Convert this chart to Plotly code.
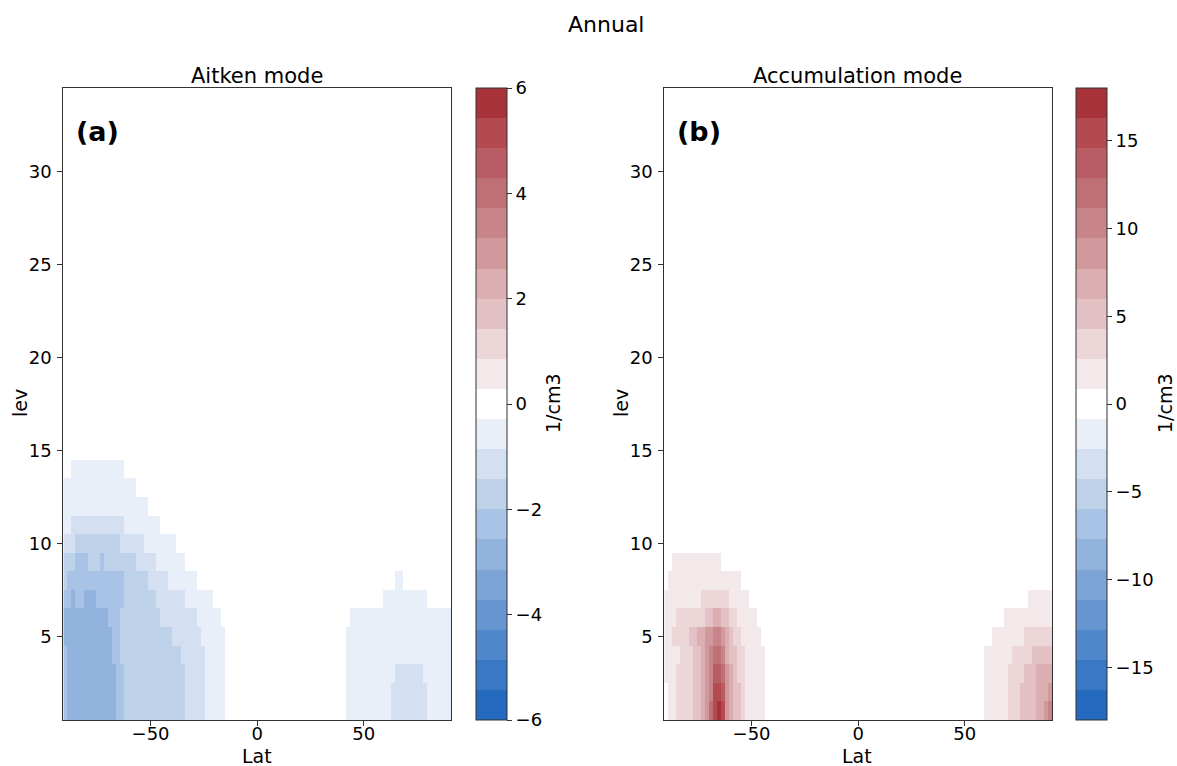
import numpy as np
import plotly.graph_objects as go

# ---------------- data ----------------
NLAT = 96
lat = np.linspace(-90, 90, NLAT)          # latitude grid (cell centres)
lev = np.arange(1, 35)                    # model level index

N_BANDS = 21
AITKEN_LIM = 6.0
ACCUM_LIM = 18.0
aitken_ticks = [-6, -4, -2, 0, 2, 4, 6]
accum_ticks = [-15, -10, -5, 0, 5, 10, 15]
lat_ticks = [-50, 0, 50]
lev_ticks = [5, 10, 15, 20, 25, 30]

# band colours of the discrete diverging palette (most negative -> most positive)
band_colors = [
    "#2369be", "#3a77c5", "#5086ca", "#6695d0", "#7ca4d6",
    "#92b3dd", "#a8c3e6", "#bed2ea", "#d4e0f1", "#e8eff8",
    "#ffffff",
    "#f3e9ea", "#ecd6d8", "#e4c1c4", "#dbaeb1", "#d2999d",
    "#c88589", "#bf7075", "#b85d63", "#b24a50", "#a8323a",
]

# Read-off anomaly field, given as runs per level:
# level -> [(first lat cell, end lat cell (exclusive), colour band index)], later runs overwrite earlier.
aitken_runs = {
    14: [(2, 15, -1)],
    13: [(0, 18, -1)],
    12: [(0, 21, -1)],
    11: [(0, 24, -1), (2, 15, -2)],
    10: [(0, 28, -1), (0, 20, -2), (3, 14, -3)],
    9: [(0, 30, -1), (0, 23, -2), (0, 18, -3), (3, 6, -4), (9, 10, -4)],
    8: [(0, 33, -1), (0, 26, -2), (0, 21, -3), (1, 15, -4), (82, 84, -1)],
    7: [(0, 37, -1), (0, 30, -2), (0, 23, -3), (0, 15, -4), (2, 3, -5), (5, 8, -5), (79, 90, -1)],
    6: [(0, 39, -1), (0, 33, -2), (0, 24, -3), (0, 14, -4), (0, 11, -5), (71, 96, -1)],
    5: [(0, 40, -1), (0, 34, -2), (0, 27, -3), (0, 14, -4), (0, 12, -5), (70, 96, -1)],
    4: [(0, 40, -1), (0, 35, -2), (0, 29, -3), (0, 14, -4), (1, 12, -5), (70, 96, -1)],
    3: [(0, 40, -1), (0, 35, -2), (0, 30, -3), (0, 15, -4), (1, 13, -5), (70, 96, -1), (82, 89, -2)],
    2: [(0, 40, -1), (0, 35, -2), (0, 30, -3), (0, 15, -4), (1, 13, -5), (70, 96, -1), (81, 90, -2)],
    1: [(0, 40, -1), (0, 35, -2), (0, 30, -3), (0, 15, -4), (1, 13, -5), (70, 96, -1), (81, 90, -2)],
}

accum_runs = {
    9: [(2, 14, 1)],
    8: [(1, 19, 1)],
    7: [(0, 21, 1), (9, 16, 2), (90, 96, 1)],
    6: [(0, 23, 1), (3, 18, 2), (10, 16, 3), (12, 14, 4), (84, 96, 1)],
    5: [(0, 24, 1), (2, 19, 2), (6, 17, 3), (8, 16, 4), (10, 15, 5), (12, 14, 6),
        (81, 96, 1), (89, 96, 2)],
    4: [(0, 25, 1), (4, 20, 2), (7, 18, 3), (9, 16, 4), (10, 15, 5), (11, 15, 6), (12, 14, 7),
        (79, 96, 1), (86, 96, 2), (91, 96, 3)],
    3: [(0, 25, 1), (3, 20, 2), (7, 18, 3), (9, 17, 4), (10, 16, 5), (11, 15, 6), (12, 15, 7), (12, 14, 8),
        (79, 96, 1), (85, 96, 2), (89, 96, 3), (92, 96, 4)],
    2: [(1, 25, 1), (3, 20, 2), (7, 19, 3), (9, 17, 4), (10, 16, 5), (11, 15, 6), (12, 15, 8), (12, 14, 9),
        (79, 96, 1), (85, 96, 2), (88, 96, 3), (92, 96, 4), (95, 96, 5)],
    1: [(1, 25, 1), (3, 20, 2), (7, 19, 3), (9, 17, 4), (10, 16, 5), (11, 15, 7), (12, 15, 9), (13, 14, 10),
        (79, 96, 1), (85, 96, 2), (88, 96, 3), (92, 96, 4), (94, 96, 5), (95, 96, 6)],
}


def build_field(runs, lim):
    step = 2 * lim / N_BANDS
    z = np.zeros((len(lev), NLAT))
    for lv, segs in runs.items():
        for a, b, band in segs:
            z[lv - 1, a:b] = band * step
    return z


z_aitken = build_field(aitken_runs, AITKEN_LIM)
z_accum = build_field(accum_runs, ACCUM_LIM)


def stepped_scale(colors):
    n = len(colors)
    cs = []
    for i, c in enumerate(colors):
        cs.append([i / n, c])
        cs.append([(i + 1) / n, c])
    return cs


cscale = stepped_scale(band_colors)

# ---------------- layout geometry ----------------
W, H = 1177, 766
FONT = "DejaVu Sans"


def px(x):
    return x / W


def py(y):
    return 1 - y / H


plot_top, plot_bot = 88, 720
xdom_a = [px(63.3), px(451)]
xdom_b = [px(664.3), px(1052)]
ydom = [py(plot_bot), py(plot_top)]


def fmt(v):
    return str(v).replace("-", "\u2212")


fig = go.Figure()


def colorbar(xleft, ticks):
    return dict(
        x=px(xleft), xanchor="left", xpad=0,
        y=(ydom[0] + ydom[1]) / 2, yanchor="middle", ypad=0,
        len=(plot_bot - plot_top) / H, lenmode="fraction",
        thickness=31, thicknessmode="pixels",
        outlinewidth=1, outlinecolor="#333333",
        tickmode="array", tickvals=ticks, ticktext=[fmt(t) for t in ticks],
        ticks="outside", ticklen=5, tickwidth=1, tickcolor="#333333",
        tickfont=dict(family=FONT, size=18, color="black"),
    )


fig.add_trace(go.Heatmap(
    x=lat, y=lev, z=z_aitken, colorscale=cscale,
    zmin=-AITKEN_LIM, zmax=AITKEN_LIM, xaxis="x", yaxis="y",
    colorbar=colorbar(476, aitken_ticks), hoverinfo="skip",
))
fig.add_trace(go.Heatmap(
    x=lat, y=lev, z=z_accum, colorscale=cscale,
    zmin=-ACCUM_LIM, zmax=ACCUM_LIM, xaxis="x2", yaxis="y2",
    colorbar=colorbar(1076, accum_ticks), hoverinfo="skip",
))

half = 90 / (NLAT - 1)
axis_common = dict(
    showline=True, mirror=True, linecolor="#333333", linewidth=1,
    ticks="outside", ticklen=5, tickwidth=1, tickcolor="#333333",
    showgrid=False, zeroline=False,
    tickfont=dict(family=FONT, size=18, color="black"),
)
xa = dict(axis_common, range=[-90 - half, 90 + half], tickmode="array",
          tickvals=lat_ticks, ticktext=[fmt(t) for t in lat_ticks],
          ticklabelstandoff=-8)
ya = dict(axis_common, range=[0.5, 34.5], tickmode="array", tickvals=lev_ticks,
          ticklabelstandoff=2)

fig.update_layout(
    width=W, height=H,
    margin=dict(l=0, r=0, t=0, b=0),
    paper_bgcolor="white", plot_bgcolor="white",
    font=dict(family=FONT, color="black"),
    xaxis=dict(xa, domain=xdom_a, anchor="y"),
    yaxis=dict(ya, domain=ydom, anchor="x"),
    xaxis2=dict(xa, domain=xdom_b, anchor="y2"),
    yaxis2=dict(ya, domain=ydom, anchor="x2"),
    showlegend=False,
)

ann = []


def add_text(x, y, text, size, angle=0, bold=False, xanchor="center"):
    ann.append(dict(
        x=px(x), y=py(y), xref="paper", yref="paper", text=f"<b>{text}</b>" if bold else text,
        showarrow=False, textangle=angle, xanchor=xanchor, yanchor="middle",
        font=dict(family=FONT, size=size, color="black"),
    ))


add_text(606, 25, "Annual", 22)
add_text(257, 76, "Aitken mode", 21)
add_text(857, 76, "Accumulation mode", 21)
add_text(74, 132, "(a)", 27, bold=True, xanchor="left")
add_text(675, 132, "(b)", 27, bold=True, xanchor="left")
add_text(257, 756, "Lat", 19)
add_text(857, 756, "Lat", 19)
add_text(20, 403, "lev", 19, angle=-90)
add_text(621, 403, "lev", 19, angle=-90)
add_text(553, 403, "1/cm3", 19, angle=-90)
add_text(1165, 403, "1/cm3", 19, angle=-90)

fig.update_layout(annotations=ann)
fig.write_html("out.html")
